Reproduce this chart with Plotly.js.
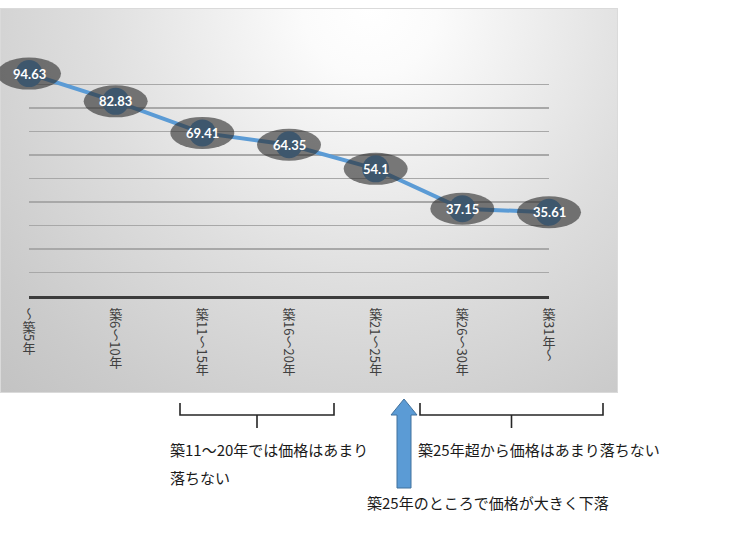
<!DOCTYPE html>
<html>
<head>
<meta charset="utf-8">
<script src="https://cdn.plot.ly/plotly-3.0.1.min.js"></script>
<style>
  html, body { margin: 0; padding: 0; background: #ffffff; }
  #chart { width: 746px; height: 544px; }
</style>
</head>
<body>
<div id="chart"></div>
<script>
// ---- data ----
const categories = ['～築5年', '築6～10年', '築11～15年', '築16～20年', '築21～25年', '築26～30年', '築31年～'];
const values = [94.63, 82.83, 69.41, 64.35, 54.1, 37.15, 35.61];
const yRange = [0, 100];

const noteLeft1 = '築11～20年では価格はあまり';
const noteLeft2 = '落ちない';
const noteRight = '築25年超から価格はあまり落ちない';
const noteArrow = '築25年のところで価格が大きく下落';

// ---- plot geometry (pixels) ----
const W = 746, H = 544;
const L = 29, R = 549, T = 61, B = 296;
const PX = p => (p - L) / (R - L);
const PY = p => (B - p) / (B - T);

// background gradient box (drawn on a canvas, used as a layout image)
const box = { x0: 0, y0: 8, x1: 618, y1: 393 };
const cv = document.createElement('canvas');
cv.width = box.x1 - box.x0; cv.height = box.y1 - box.y0;
const cx = cv.getContext('2d');
const g = cx.createRadialGradient(370, 0, 0, 370, 0, 560);
g.addColorStop(0.0, '#ffffff');
g.addColorStop(0.12, '#fbfbfb');
g.addColorStop(0.5, '#dedede');
g.addColorStop(0.8, '#cbcbcb');
g.addColorStop(1.0, '#c0c0c0');
cx.fillStyle = g;
cx.fillRect(0, 0, cv.width, cv.height);
cx.strokeStyle = '#dadada';
cx.lineWidth = 2;
cx.strokeRect(0, 0, cv.width, cv.height);
const bgURL = cv.toDataURL('image/png');

const lineBlue = '#5b9bd5';

const trace = {
  type: 'scatter',
  mode: 'lines+markers',
  x: categories,
  y: values,
  line: { color: lineBlue, width: 4 },
  marker: { color: lineBlue, size: 27 },
  cliponaxis: false,
  hoverinfo: 'skip'
};

const n = categories.length;
const shapes = [];
// label ellipses anchored to each data point
values.forEach((v, i) => {
  shapes.push({
    type: 'circle', xref: 'paper', yref: 'paper',
    xsizemode: 'pixel', ysizemode: 'pixel',
    xanchor: i / (n - 1), yanchor: (v - yRange[0]) / (yRange[1] - yRange[0]),
    x0: -32, x1: 32, y0: -16, y1: 16,
    fillcolor: 'rgba(45,45,45,0.62)', line: { width: 0 }, layer: 'above'
  });
});
// brackets
function bracket(xa, xb, yTop, yMid, yTip) {
  const xm = (xa + xb) / 2;
  return {
    type: 'path', xref: 'paper', yref: 'paper',
    path: `M${PX(xa)},${PY(yTop)} L${PX(xa)},${PY(yMid)} L${PX(xb)},${PY(yMid)} L${PX(xb)},${PY(yTop)} M${PX(xm)},${PY(yMid)} L${PX(xm)},${PY(yTip)}`,
    line: { color: '#262626', width: 1.6 }
  };
}
shapes.push(bracket(180, 334, 403, 415, 428));
shapes.push(bracket(420, 603, 403, 415, 428));
// block arrow
const ap = [[404, 399], [417, 415], [411, 415], [411, 488], [397, 488], [397, 415], [391, 415]];
shapes.push({
  type: 'path', xref: 'paper', yref: 'paper',
  path: 'M' + ap.map(p => `${PX(p[0])},${PY(p[1])}`).join(' L') + ' Z',
  fillcolor: lineBlue, line: { color: '#41719c', width: 1 }
});

const annotations = values.map((v, i) => ({
  x: categories[i], y: v, xref: 'x', yref: 'y',
  text: String(v), showarrow: false,
  font: { family: 'Lato, "Open Sans", sans-serif', size: 13, color: '#ffffff', weight: 'bold' }
}));
const noteFont = { family: '"Noto Sans CJK JP", sans-serif', size: 15, color: '#1a1a1a' };
annotations.push({ xref: 'paper', yref: 'paper', x: PX(168), y: PY(450), xanchor: 'left', yanchor: 'middle', text: noteLeft1, showarrow: false, font: noteFont });
annotations.push({ xref: 'paper', yref: 'paper', x: PX(168), y: PY(477), xanchor: 'left', yanchor: 'middle', text: noteLeft2, showarrow: false, font: noteFont });
annotations.push({ xref: 'paper', yref: 'paper', x: PX(416), y: PY(450), xanchor: 'left', yanchor: 'middle', text: noteRight, showarrow: false, font: noteFont });
annotations.push({ xref: 'paper', yref: 'paper', x: PX(365), y: PY(502), xanchor: 'left', yanchor: 'middle', text: noteArrow, showarrow: false, font: noteFont });

const layout = {
  width: W, height: H,
  margin: { l: L, r: W - R, t: T, b: H - B, pad: 0 },
  paper_bgcolor: '#ffffff',
  plot_bgcolor: 'rgba(0,0,0,0)',
  showlegend: false,
  xaxis: {
    type: 'category', range: [0, n - 1], fixedrange: true,
    showgrid: false, zeroline: false,
    showline: true, linecolor: '#3c3c3c', linewidth: 3,
    ticks: '',
    tickfont: { family: '"Noto Sans CJK JP", sans-serif', size: 13, color: '#404040' }
  },
  yaxis: {
    range: yRange, dtick: 10, fixedrange: true,
    showgrid: true, gridcolor: '#a8a8a8', gridwidth: 1.2,
    zeroline: false, showline: false, showticklabels: false, ticks: ''
  },
  images: [{
    source: bgURL, xref: 'paper', yref: 'paper',
    x: PX(box.x0), y: PY(box.y0), sizex: (box.x1 - box.x0) / (R - L), sizey: (box.y1 - box.y0) / (B - T),
    xanchor: 'left', yanchor: 'top', sizing: 'stretch', layer: 'below'
  }],
  shapes: shapes,
  annotations: annotations
};

const gd = document.getElementById('chart');
Plotly.newPlot(gd, [trace], layout, { staticPlot: true, displayModeBar: false }).then(() => {
  // render the category labels in vertical (tate-gaki) writing mode like the original
  const top = 308;
  const gdr = gd.getBoundingClientRect();
  gd.querySelectorAll('.xtick text').forEach(t => {
    const r0 = t.getBoundingClientRect();
    const cxm = r0.left + r0.width / 2;
    t.style.writingMode = 'vertical-rl';
    t.setAttribute('text-anchor', 'start');
    const r1 = t.getBoundingClientRect();
    const dx = cxm - (r1.left + r1.width / 2);
    const dy = (gdr.top + top) - r1.top;
    t.setAttribute('x', (parseFloat(t.getAttribute('x')) || 0) + dx);
    t.setAttribute('y', (parseFloat(t.getAttribute('y')) || 0) + dy);
  });
});
</script>
</body>
</html>
